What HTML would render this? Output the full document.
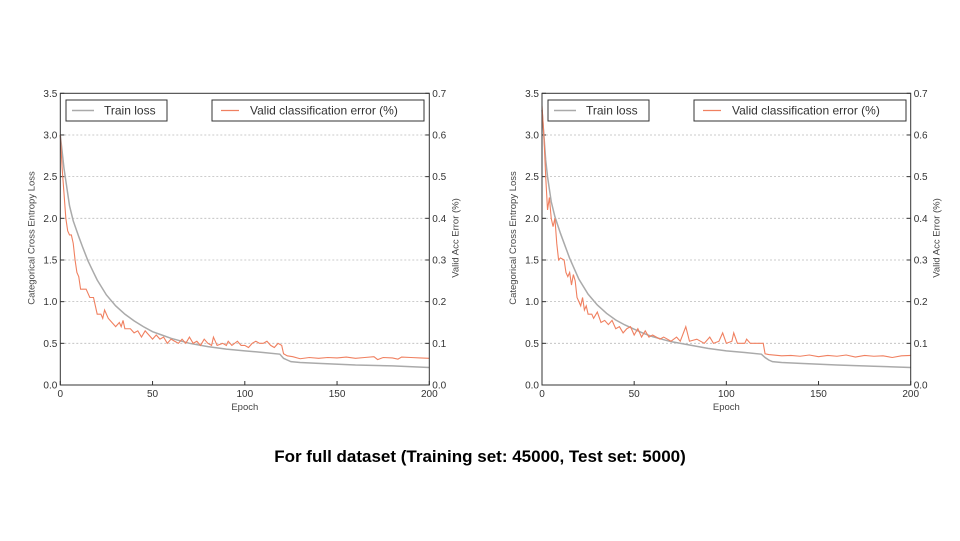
<!DOCTYPE html>
<html><head><meta charset="utf-8"><style>
body{margin:0;background:#fff;width:960px;height:541px;overflow:hidden;font-family:"Liberation Sans",sans-serif}
#title{position:absolute;left:0;width:960px;top:447px;text-align:center;font-weight:bold;font-size:17px;color:#000}
</style></head><body>
<svg id="svg" width="960" height="541" style="position:absolute;left:0;top:0"></svg>
<div id="title">For full dataset (Training set: 45000, Test set: 5000)</div>
<script>
const xTicks=[0,50,100,150,200];
const yLeftTicks=[0,0.5,1,1.5,2,2.5,3,3.5];
const yRightTicks=[0,0.1,0.2,0.3,0.4,0.5,0.6,0.7];
const trainEpochsA=[0,1,2,3,5,7,10,12,15,18,20,25,30,35,40,45,50,55,60,65,70,80,90,100,110,119,121,123,125,130,140,160,180,200];
const trainLossA=[3.0,2.8,2.6,2.45,2.15,1.97,1.78,1.66,1.49,1.35,1.26,1.08,0.95,0.85,0.77,0.7,0.64,0.6,0.56,0.53,0.5,0.46,0.43,0.41,0.39,0.37,0.32,0.3,0.28,0.27,0.26,0.24,0.23,0.21];
const validEpochsA=[0,1,2,3,4,5,6,7,8,9,10,11,12,14,15,16,17,18,19,20,22,23,24,26,28,30,32,33,34,35,38,40,42,44,46,48,50,52,54,56,58,60,62,64,66,68,70,72,74,76,78,80,82,83,85,88,90,91,93,96,98,100,102,104,106,108,110,112,114,116,118,120,121,123,126,130,135,140,145,150,155,160,165,170,172,175,180,183,185,190,195,200];
const validErrA=[0.60,0.52,0.46,0.40,0.37,0.36,0.36,0.34,0.30,0.27,0.26,0.23,0.23,0.23,0.22,0.21,0.21,0.21,0.19,0.17,0.17,0.16,0.18,0.16,0.15,0.14,0.15,0.14,0.155,0.135,0.135,0.125,0.13,0.115,0.13,0.12,0.11,0.12,0.11,0.115,0.10,0.11,0.105,0.10,0.11,0.10,0.115,0.10,0.105,0.095,0.11,0.10,0.095,0.115,0.095,0.10,0.095,0.105,0.095,0.105,0.095,0.095,0.09,0.10,0.105,0.10,0.10,0.105,0.095,0.09,0.10,0.095,0.075,0.07,0.068,0.063,0.066,0.064,0.066,0.065,0.067,0.064,0.066,0.068,0.061,0.066,0.065,0.062,0.067,0.066,0.065,0.064];
const trainEpochsB=[0,1,2,3,5,7,10,12,15,18,20,25,30,35,40,45,50,55,60,65,70,80,90,100,110,119,121,123,125,130,140,160,180,200];
const trainLossB=[3.3,3.0,2.7,2.5,2.2,2.02,1.82,1.7,1.52,1.37,1.27,1.09,0.96,0.86,0.78,0.72,0.67,0.62,0.58,0.55,0.52,0.48,0.44,0.41,0.39,0.37,0.33,0.3,0.28,0.27,0.26,0.24,0.225,0.21];
const validEpochsB=[0,1,2,3,4,5,6,7,8,9,10,12,13,14,15,16,17,18,19,20,21,22,23,24,25,27,28,30,32,34,36,38,40,42,44,46,48,50,52,54,56,58,60,64,66,70,73,75,78,80,84,88,91,93,96,98,100,103,104,106,110,111,113,116,120,121,123,130,135,140,145,150,155,160,165,170,175,180,185,190,195,200];
const validErrB=[0.67,0.60,0.50,0.42,0.45,0.40,0.38,0.40,0.34,0.30,0.305,0.30,0.27,0.26,0.27,0.24,0.265,0.25,0.21,0.20,0.19,0.21,0.18,0.19,0.17,0.17,0.16,0.175,0.15,0.155,0.145,0.155,0.135,0.14,0.125,0.135,0.14,0.12,0.135,0.115,0.13,0.115,0.12,0.11,0.115,0.105,0.115,0.105,0.14,0.105,0.11,0.10,0.115,0.10,0.105,0.125,0.10,0.105,0.125,0.10,0.10,0.11,0.10,0.10,0.10,0.075,0.073,0.07,0.071,0.069,0.072,0.068,0.071,0.069,0.072,0.067,0.071,0.069,0.07,0.066,0.07,0.071];

const NS="http://www.w3.org/2000/svg";
const svg=document.getElementById('svg');
function mk(tag,attrs,parent,text){const e=document.createElementNS(NS,tag);for(const k in attrs)e.setAttribute(k,attrs[k]);if(text!==undefined)e.textContent=text;(parent||svg).appendChild(e);return e;}

function chart(id,x0,x1,tE,tL,vE,vV,leg){
  const y0=385,y1=93.3;
  const g=mk('g',{});
  
  
  const X=v=>x0+(x1-x0)*v/200;
  const YL=v=>y0-(y0-y1)*v/3.5;
  const YR=v=>y0-(y0-y1)*v/0.7;
  yLeftTicks.forEach((t,i)=>{
    const y=YL(t);
    if(i>0&&i<yLeftTicks.length-1){const gl=mk('line',{x1:x0,x2:x1,y1:y,y2:y,stroke:'#bbb','stroke-width':0.8,'stroke-dasharray':'2,2'},g);}
    mk('line',{x1:x0,x2:x0+4,y1:y,y2:y,stroke:'#333'},g);
    const tl=mk('text',{x:x0-3,y:y+3.5,'text-anchor':'end','font-size':10,fill:'#333'},g,t.toFixed(1));
    
  });
  yRightTicks.forEach(t=>{
    const y=YR(t);
    mk('line',{x1:x1-4,x2:x1,y1:y,y2:y,stroke:'#333'},g);
    const tl=mk('text',{x:x1+3,y:y+3.5,'font-size':10,fill:'#333'},g,t.toFixed(1));
    
  });
  xTicks.forEach(t=>{
    const x=X(t);
    mk('line',{x1:x,x2:x,y1:y0,y2:y0-4,stroke:'#333'},g);
    const tl=mk('text',{x:x,y:y0+12,'text-anchor':'middle','font-size':10,fill:'#333'},g,String(t));
    
  });
  const tp=mk('polyline',{points:tE.map((e,i)=>X(e)+','+YL(tL[i])).join(' '),fill:'none',stroke:'#aaa','stroke-width':1.5},g);
  
  const vp=mk('polyline',{points:vE.map((e,i)=>X(e)+','+YR(vV[i])).join(' '),fill:'none',stroke:'#f08060','stroke-width':1.1},g);
  
  const fr=mk('rect',{x:x0,y:y1,width:x1-x0,height:y0-y1,fill:'none',stroke:'#333','stroke-width':1},g);
  
  const xl=mk('text',{x:(x0+x1)/2,y:410,'text-anchor':'middle','font-size':9.5,fill:'#444'},g,'Epoch');
  
  const ll=mk('text',{x:0,y:0,'text-anchor':'middle','font-size':9.5,fill:'#444',transform:`translate(${x0-26},238) rotate(-90)`},g,'Categorical Cross Entropy Loss');
  
  const rl=mk('text',{x:0,y:0,'text-anchor':'middle','font-size':9.5,fill:'#444',transform:`translate(${x1+29},238) rotate(-90)`},g,'Valid Acc Error (%)');
  
  const l1=mk('g',{},g);
  mk('rect',{x:leg[0],y:100,width:leg[1]-leg[0],height:21,fill:'#fff',stroke:'#333'},l1);
  mk('line',{x1:leg[0]+6,x2:leg[0]+28,y1:110.5,y2:110.5,stroke:'#aaa','stroke-width':1.5},l1);
  mk('text',{x:leg[0]+38,y:114.5,'font-size':12,fill:'#333'},l1,'Train loss');
  const l2=mk('g',{},g);
  mk('rect',{x:leg[2],y:100,width:leg[3]-leg[2],height:21,fill:'#fff',stroke:'#333'},l2);
  mk('line',{x1:leg[2]+9,x2:leg[2]+27,y1:110.5,y2:110.5,stroke:'#f08060','stroke-width':1.2},l2);
  mk('text',{x:leg[2]+38,y:114.5,'font-size':12,fill:'#333'},l2,'Valid classification error (%)');
}
chart('left-chart',60.3,429.3,trainEpochsA,trainLossA,validEpochsA,validErrA,[66,167,212,424]);
chart('right-chart',542,910.7,trainEpochsB,trainLossB,validEpochsB,validErrB,[548,649,694,906]);
</script>
</body></html>
